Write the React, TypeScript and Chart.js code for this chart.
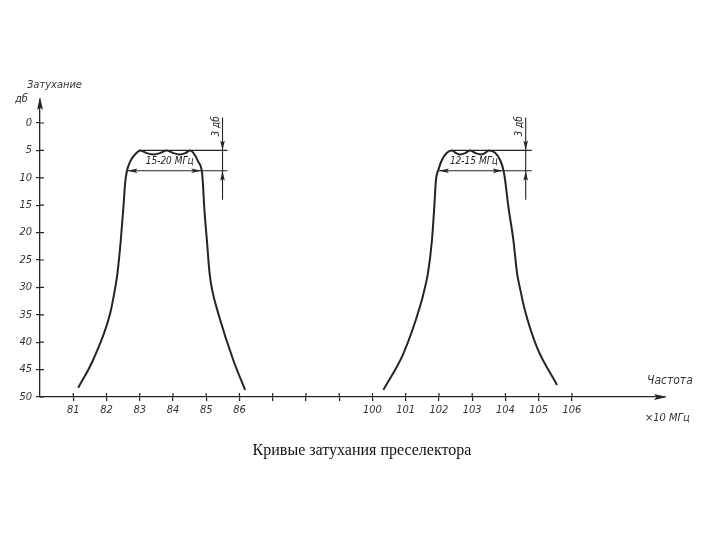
import React, { useEffect, useRef } from "react";
import { Chart, registerables } from "chart.js";

Chart.register(...registerables);

// ---------- data ----------
const tickLabels = ["81", "82", "83", "84", "85", "86", "", "", "", "100", "101", "102", "103", "104", "105", "106"];
const yTickValues = [0, 5, 10, 15, 20, 25, 30, 35, 40, 45, 50];

// band 1 (81–86), frequency in units of 10 MHz, attenuation in dB
const band1Freq = [81.15, 81.6, 82.1, 82.25, 82.33, 82.43, 82.51, 82.56, 82.61, 82.71, 82.91, 83.01, 83.21, 83.41, 83.61, 83.81, 84.01, 84.21, 84.37, 84.52, 84.62, 84.76, 84.87, 84.9, 84.94, 85.02, 85.1, 85.18, 85.36, 85.81, 86.17];
const band1Db = [48.3, 43.2, 35.0, 30.5, 27.4, 21.4, 15.3, 11.0, 8.9, 7.05, 5.42, 5.0, 5.5, 5.75, 5.5, 5.0, 5.5, 5.75, 5.5, 5.0, 5.5, 7.06, 8.9, 11.0, 15.3, 21.4, 27.4, 30.5, 34.7, 43.2, 48.7];

// band 2 (100–106)
const band2Freq = [100.33, 100.93, 101.43, 101.56, 101.67, 101.79, 101.86, 101.91, 101.98, 102.09, 102.24, 102.39, 102.52, 102.64, 102.79, 102.94, 103.1, 103.27, 103.38, 103.5, 103.69, 103.84, 103.94, 103.99, 104.09, 104.24, 104.35, 104.45, 104.57, 104.94, 105.55];
const band2Db = [48.7, 42.1, 33.5, 30.5, 27.4, 21.4, 15.3, 10.4, 8.6, 6.75, 5.42, 5.0, 5.5, 5.75, 5.5, 5.0, 5.5, 5.75, 5.5, 5.0, 5.42, 6.75, 8.6, 10.4, 15.3, 21.4, 27.4, 30.5, 33.8, 40.8, 47.8];

// axis position = frequency - offset (the axis is broken between 86 and 100)
const bandOffsets = [81, 91];

// annotation values (frequency, dB)
const bandLabels = ["15-20 МГц", "12-15 МГц"];
const refLevels = [5, 8.7];
const topLineStart = [82.98, 102.36];
const bandEdgeLeft = [82.63, 102.0];
const bandEdgeRight = [84.85, 103.92];
const refLineEnd = [85.64, 104.79];
const dimLineFreq = [85.49, 104.61];
const dimLineTop = [-1.0, -1.0];
const dimLineBottom = [14.0, 14.0];
const bandLabelFreq = [83.9, 103.05];
const bandLabelDb = [7.0, 7.0];
const dimText = "3 дб";

const INK = "#242424";
const LABEL = "#333333";
const HAND = '"DejaVu Sans Condensed", "Liberation Sans Narrow", "DejaVu Sans", sans-serif';

function arrowHead(ctx: CanvasRenderingContext2D, tx: number, ty: number, angle: number, len: number, half: number) {
  ctx.save();
  ctx.translate(tx, ty);
  ctx.rotate(angle);
  ctx.beginPath();
  ctx.moveTo(0, 0);
  ctx.lineTo(-len, -half);
  ctx.lineTo(-len * 0.8, 0);
  ctx.lineTo(-len, half);
  ctx.closePath();
  ctx.fill();
  ctx.restore();
}

const drawingPlugin = {
  id: "drawing",
  afterDraw(chart: any) {
    const { ctx, chartArea } = chart;
    const xs = chart.scales.x;
    const ys = chart.scales.y;
    ctx.save();
    ctx.strokeStyle = INK;
    ctx.fillStyle = INK;
    ctx.lineWidth = 1.2;

    // inner halves of the crossing ticks
    ctx.beginPath();
    tickLabels.forEach((_, i) => {
      const px = xs.getPixelForValue(i);
      ctx.moveTo(px, chartArea.bottom);
      ctx.lineTo(px, chartArea.bottom - 4);
    });
    yTickValues.forEach((v) => {
      const py = ys.getPixelForValue(v);
      ctx.moveTo(chartArea.left, py);
      ctx.lineTo(chartArea.left + 4, py);
    });
    ctx.stroke();

    // axis arrows
    arrowHead(ctx, chartArea.left, chartArea.top - 3, -Math.PI / 2, 13, 3);
    arrowHead(ctx, chartArea.right + 2, chartArea.bottom, 0, 13, 3);

    // annotations for each band
    for (let b = 0; b < 2; b++) {
      const off = bandOffsets[b];
      const px = (f: number) => xs.getPixelForValue(f - off);
      const y5 = ys.getPixelForValue(refLevels[0]);
      const y8 = ys.getPixelForValue(refLevels[1]);
      ctx.lineWidth = 1.1;
      ctx.beginPath();
      ctx.moveTo(px(topLineStart[b]), y5);
      ctx.lineTo(px(refLineEnd[b]), y5);
      ctx.moveTo(px(bandEdgeLeft[b]), y8);
      ctx.lineTo(px(refLineEnd[b]), y8);
      const dx = px(dimLineFreq[b]);
      ctx.moveTo(dx, ys.getPixelForValue(dimLineTop[b]));
      ctx.lineTo(dx, ys.getPixelForValue(dimLineBottom[b]));
      ctx.stroke();
      // band arrows
      arrowHead(ctx, px(bandEdgeLeft[b]), y8, Math.PI, 10, 2.3);
      arrowHead(ctx, px(bandEdgeRight[b]), y8, 0, 10, 2.3);
      // 3 dB arrows
      arrowHead(ctx, dx, y5, Math.PI / 2, 10, 2.3);
      arrowHead(ctx, dx, y8, -Math.PI / 2, 10, 2.3);
      // band label
      ctx.font = `italic 10px ${HAND}`;
      ctx.textAlign = "center";
      ctx.textBaseline = "middle";
      ctx.fillText(bandLabels[b], px(bandLabelFreq[b]), ys.getPixelForValue(bandLabelDb[b]));
      // 3 dB rotated text
      ctx.save();
      ctx.translate(dx - 6, ys.getPixelForValue(0.6));
      ctx.rotate(-Math.PI / 2);
      ctx.fillText(dimText, 0, 0);
      ctx.restore();
    }

    // axis captions
    ctx.fillStyle = LABEL;
    ctx.font = `italic 11px ${HAND}`;
    ctx.textAlign = "left";
    ctx.textBaseline = "middle";
    ctx.fillText("Затухание", chartArea.left - 13, chartArea.top - 15);
    ctx.fillText("дб", chartArea.left - 25, chartArea.top - 1);
    ctx.font = `italic 12px ${HAND}`;
    ctx.fillText("Частота", chartArea.right - 18, chartArea.bottom - 16);
    ctx.font = `italic 11px ${HAND}`;
    ctx.fillText("×10 МГц", chartArea.right - 20, chartArea.bottom + 21);
    ctx.restore();
  },
};

export default function App() {
  const canvasRef = useRef<HTMLCanvasElement | null>(null);

  useEffect(() => {
    const canvas = canvasRef.current;
    if (!canvas) return;
    const tickFont = { family: HAND, size: 11, style: "italic" as const };
    const chart = new Chart(canvas, {
      type: "line",
      data: {
        datasets: [
          {
            label: "band1",
            data: band1Freq.map((f, i) => ({ x: f - bandOffsets[0], y: band1Db[i] })),
            borderColor: INK,
            borderWidth: 2,
            pointRadius: 0,
            fill: false,
            cubicInterpolationMode: "monotone",
          },
          {
            label: "band2",
            data: band2Freq.map((f, i) => ({ x: f - bandOffsets[1], y: band2Db[i] })),
            borderColor: INK,
            borderWidth: 2,
            pointRadius: 0,
            fill: false,
            cubicInterpolationMode: "monotone",
          },
        ],
      },
      options: {
        animation: false,
        responsive: false,
        devicePixelRatio: 1,
        layout: { padding: { top: 100, right: 55, left: 0, bottom: 0 } },
        plugins: {
          legend: { display: false },
          tooltip: { enabled: false },
          title: { display: false },
        },
        scales: {
          x: {
            type: "linear",
            min: -1,
            max: 17.8,
            afterBuildTicks: (s: any) => {
              s.ticks = tickLabels.map((_, i) => ({ value: i }));
            },
            afterFit: (s: any) => {
              s.height = 143;
            },
            ticks: {
              autoSkip: false,
              maxRotation: 0,
              padding: 3,
              color: LABEL,
              font: tickFont,
              callback: (v: any) => tickLabels[Math.round(Number(v))] ?? "",
            },
            grid: { drawOnChartArea: false, tickLength: 4, color: INK, lineWidth: 1.2 },
            border: { color: INK, width: 1.3 },
          },
          y: {
            type: "linear",
            reverse: true,
            min: -4.2,
            max: 50,
            afterBuildTicks: (s: any) => {
              s.ticks = yTickValues.map((v) => ({ value: v }));
            },
            afterFit: (s: any) => {
              s.width = 40;
            },
            ticks: {
              padding: 4,
              color: LABEL,
              font: tickFont,
              callback: (v: any) => String(v),
            },
            grid: { drawOnChartArea: false, tickLength: 4, color: INK, lineWidth: 1.2 },
            border: { color: INK, width: 1.3 },
          },
        },
      },
      plugins: [drawingPlugin],
    } as any);
    return () => chart.destroy();
  }, []);

  return (
    <div style={{ position: "fixed", left: 0, top: 0, width: 720, height: 540, background: "#ffffff" }}>
      <canvas ref={canvasRef} width={720} height={540} style={{ width: 720, height: 540, display: "block" }} />
      <div
        style={{
          position: "absolute",
          left: 0,
          top: 441,
          width: 720,
          textAlign: "center",
          fontFamily: '"Liberation Serif", "Times New Roman", serif',
          fontSize: 16,
          color: "#111",
          paddingLeft: 4,
          boxSizing: "border-box",
        }}
      >
        Кривые затухания преселектора
      </div>
    </div>
  );
}
